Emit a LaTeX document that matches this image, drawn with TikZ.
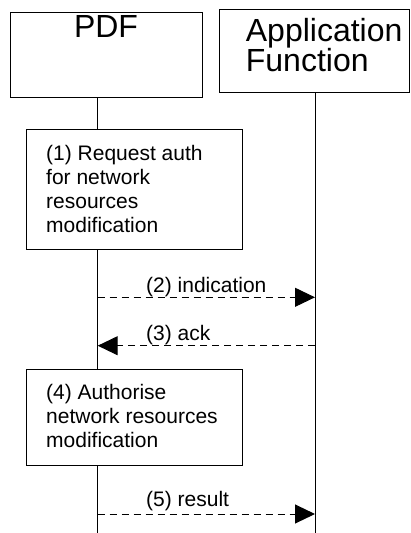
\documentclass[tikz,border=0pt]{standalone}
\usepackage{fontspec}
\setmainfont{Liberation Sans}
\usetikzlibrary{arrows.meta}
\tikzset{
  x=1pt, y=1pt,
  box/.style={draw, line width=1pt, inner sep=0pt},
  hdr/.style={inner sep=0pt, font=\fontsize{32}{30}\selectfont},
  txt/.style={inner sep=0pt, align=left, font=\fontsize{21}{24}\selectfont},
  life/.style={line width=1pt},
  msg/.style={line width=1pt, dash pattern=on 7pt off 5pt, -{Triangle[length=20pt,width=19pt]}},
  lbl/.style={inner sep=0pt, anchor=base west, font=\fontsize{21}{24}\selectfont}
}
\begin{document}
\begin{tikzpicture}
\useasboundingbox (0,0) rectangle (411,-533);
% headers
\node[box, minimum width=192pt, minimum height=85pt] (pdf) at (106,-54.5) {};
\node[hdr, anchor=base] (pdft) at (106,-37) {PDF};
\node[box, minimum width=190pt, minimum height=83pt] (af) at (314,-50.5) {};
\node[hdr, anchor=north west, align=left] (aft) at (245.7,-18.5) {Application\\Function};
% step boxes
\node[box, minimum width=216pt, minimum height=120pt] (s1) at (134,-189.3) {};
\node[txt, anchor=north west] (s1t) at (46,-144.7) {(1) Request auth\\for network\\resources\\modification};
\node[box, minimum width=216pt, minimum height=96.7pt] (s4) at (134,-417.35) {};
\node[txt, anchor=north west] (s4t) at (46,-384) {(4) Authorise\\network resources\\modification};
% lifelines
\coordinate (pend) at (97.7,-533);
\coordinate (aend) at (315,-533);
\draw[life] (pdf.south -| pend) -- (s1.north -| pend);
\draw[life] (s1.south -| pend) -- (s4.north -| pend);
\draw[life] (s4.south -| pend) -- (pend);
\draw[life] (af.south -| aend) -- (aend);
% messages
\coordinate (p2) at (97.7,-297.3);
\coordinate (a2) at (315,-297.3);
\coordinate (p3) at (97.7,-345.7);
\coordinate (a3) at (315,-345.7);
\coordinate (p5) at (97.7,-514);
\coordinate (a5) at (315,-514);
\draw[msg] (p2) -- (a2);
\draw[msg] (a3) -- (p3);
\draw[msg] (p5) -- (a5);
\node[lbl] (l2) at (146,-292.7) {(2) indication};
\node[lbl] (l3) at (146,-340) {(3) ack};
\node[lbl] (l5) at (146,-506.7) {(5) result};
\end{tikzpicture}
\end{document}
